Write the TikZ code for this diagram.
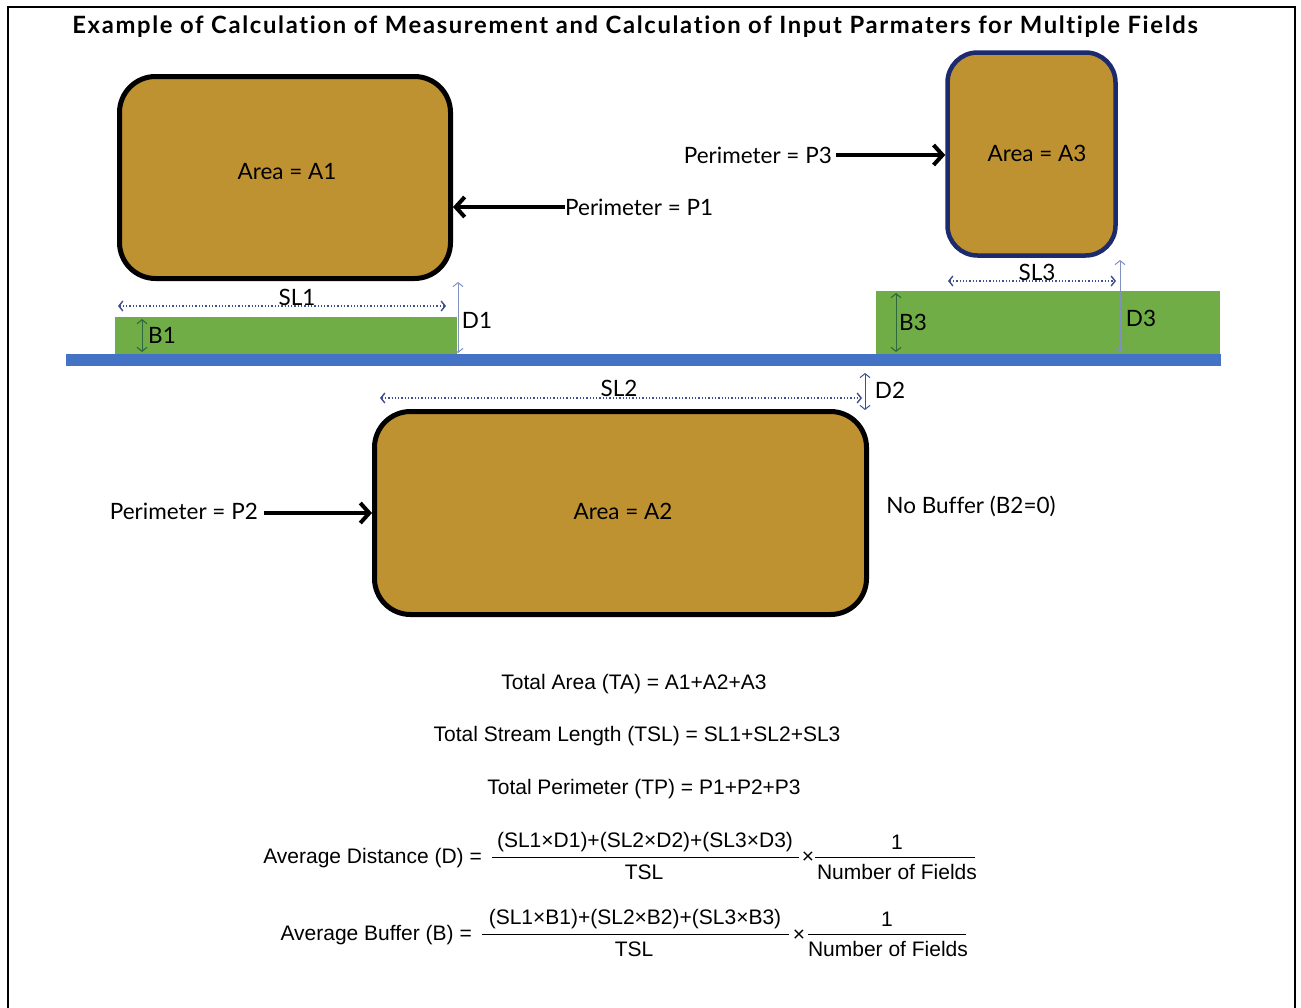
\documentclass[tikz,border=0pt]{standalone}
\usepackage{fontspec}
\setmainfont[Ligatures=NoCommon]{Lato}
\newfontfamily\titlefont[LetterSpace=7,Ligatures=NoCommon]{Lato}
\newfontfamily\narrowfont[FakeStretch=1.0]{Liberation Sans}
\usetikzlibrary{arrows.meta}
\definecolor{gold}{HTML}{BF9231}
\definecolor{fieldgreen}{HTML}{70AD47}
\definecolor{streamblue}{HTML}{4472C4}
\definecolor{navy}{HTML}{1C2A6E}
\definecolor{dimblue}{HTML}{3F4F8F}
\definecolor{lightdim}{HTML}{8090C0}
\definecolor{darkgreen}{HTML}{2C6A3E}
\tikzset{
  field/.style={draw=black, line width=5pt, fill=gold, rounded corners=36pt},
  lbl/.style={font=\fontsize{22.5}{26}\selectfont, inner sep=0pt},
  perarrow/.style={line width=4pt, -{Straight Barb[length=9pt,width=20pt]}},
  dimh/.style={draw=dimblue, line width=1.3pt, dotted, {Straight Barb[length=4pt,width=10pt,line width=1.4pt]}-{Straight Barb[length=4pt,width=10pt,line width=1.4pt]}},
  dimv/.style={draw=lightdim, line width=0.9pt, {Straight Barb[length=4pt,width=10pt,line width=1pt]}-{Straight Barb[length=4pt,width=10pt,line width=1pt]}},
  bufv/.style={draw=darkgreen, line width=1pt, {Straight Barb[length=4pt,width=10pt,line width=1.1pt]}-{Straight Barb[length=4pt,width=10pt,line width=1.1pt]}},
  formula/.style={font=\narrowfont\fontsize{21}{24}\selectfont, inner sep=0pt},
}
\begin{document}
\begin{tikzpicture}[x=1pt,y=-1pt]
\useasboundingbox (0,0) rectangle (1301,1007);
% frame
\draw[line width=2pt] (8,1020) -- (8,7) -- (1295,7) -- (1295,1020);
% title
\node[inner sep=0pt, font=\titlefont\bfseries\fontsize{23.8}{27}\selectfont] (title) at (635,27) {Example of Calculation of Measurement and Calculation of Input Parmaters for Multiple Fields};

% stream and buffers
\fill[fieldgreen] (115,317) rectangle (457,355);
\fill[fieldgreen] (876,291) rectangle (1220,355);
\fill[streamblue] (66,354) rectangle (1221,366);

% fields
\node[field, minimum width=331pt, minimum height=202pt] (a1) at (285,177.5) {};
\node[field, draw=navy, line width=4.5pt, rounded corners=30pt, minimum width=168pt, minimum height=203pt] (a3) at (1031.5,154) {};
\node[field, minimum width=492pt, minimum height=203pt] (a2) at (620.5,513) {};
\node[lbl] (a1t) at (287,172) {Area = A1};
\node[lbl] (a3t) at (1037,153) {Area = A3};
\node[lbl] (a2t) at (623,511) {Area = A2};

% perimeter labels
\node[lbl, anchor=west] (p1) at (565,207) {Perimeter = P1};
\node[lbl, anchor=east] (p3) at (832,155) {Perimeter = P3};
\node[lbl, anchor=east] (p2) at (258,511) {Perimeter = P2};
\draw[perarrow] (p1.west) -- (a1.east |- p1.west);
\draw[perarrow] (p3.east) ++(4,0) coordinate (p3s) (p3s) -- (a3.west |- p3s);
\draw[perarrow] (p2.east) ++(6,2) coordinate (p2s) (p2s) -- (a2.west |- p2s);

% SL1, D1, B1
\coordinate (sl1a) at (118,306); \coordinate (sl1b) at (446,306);
\draw[dimh] (sl1a) -- (sl1b);
\node[lbl] (sl1) at (297,297) {SL1};
\coordinate (d1a) at (458,282); \coordinate (d1b) at (458,353);
\draw[dimv] (d1a) -- (d1b);
\node[lbl] (d1) at (477,320) {D1};
\coordinate (b1a) at (142,319); \coordinate (b1b) at (142,352);
\draw[bufv] (b1a) -- (b1b);
\node[lbl] (b1) at (162,335) {B1};

% SL3, D3, B3
\coordinate (sl3a) at (948,281); \coordinate (sl3b) at (1116,281);
\draw[dimh] (sl3a) -- (sl3b);
\node[lbl] (sl3) at (1037,272) {SL3};
\coordinate (d3a) at (1120,260); \coordinate (d3b) at (1120,352);
\draw[dimv] (d3a) -- (d3b);
\node[lbl] (d3) at (1141,318) {D3};
\coordinate (b3a) at (896,293); \coordinate (b3b) at (896,352);
\draw[bufv] (b3a) -- (b3b);
\node[lbl] (b3) at (913,322) {B3};

% SL2, D2
\coordinate (sl2a) at (380,398); \coordinate (sl2b) at (862,398);
\draw[dimh] (sl2a) -- (sl2b);
\node[lbl] (sl2) at (619,388) {SL2};
\coordinate (d2a) at (865,373); \coordinate (d2b) at (865,410);
\draw[dimv, draw=dimblue] (d2a) -- (d2b);
\node[lbl] (d2) at (890,390) {D2};

\node[lbl] (nobuf) at (971,506) {No Buffer (B2=0)};

% formulas
\node[formula] (ta) at (634,684) {Total Area (TA) = A1+A2+A3};
\node[formula] (tsl) at (637,736) {Total Stream Length (TSL) = SL1+SL2+SL3};
\node[formula] (tp) at (644,789) {Total Perimeter (TP) = P1+P2+P3};

\node[formula, anchor=east] (adl) at (482,858) {Average Distance (D) =};
\node[formula] (adn) at (645,842) {(SL1×D1)+(SL2×D2)+(SL3×D3)};
\node[formula] (add) at (644,872) {TSL};
\coordinate (adf1a) at (492,857); \coordinate (adf1b) at (799,857);
\draw[line width=1pt] (adf1a) -- (adf1b);
\node[formula] (adx) at (808,858) {×};
\node[formula] (ad1) at (897,842) {1};
\node[formula] (adnf) at (897,872) {Number of Fields};
\coordinate (adf2a) at (815,857); \coordinate (adf2b) at (975,857);
\draw[line width=1pt] (adf2a) -- (adf2b);

\node[formula, anchor=east] (abl) at (472,935) {Average Buffer (B) =};
\node[formula] (abn) at (635,919) {(SL1×B1)+(SL2×B2)+(SL3×B3)};
\node[formula] (abd) at (634,949) {TSL};
\coordinate (abf1a) at (482,934); \coordinate (abf1b) at (789,934);
\draw[line width=1pt] (abf1a) -- (abf1b);
\node[formula] (abx) at (799,936) {×};
\node[formula] (ab1) at (887,919) {1};
\node[formula] (abnf) at (888,949) {Number of Fields};
\coordinate (abf2a) at (808,934); \coordinate (abf2b) at (966,934);
\draw[line width=1pt] (abf2a) -- (abf2b);
\end{tikzpicture}
\end{document}
